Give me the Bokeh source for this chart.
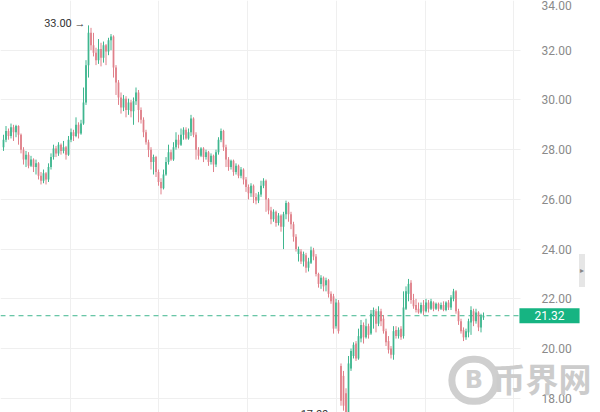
from bokeh.plotting import figure
from bokeh.models import (Range1d, FixedTicker, Span, Label, ColumnDataSource,
                          PrintfTickFormatter, LinearAxis, BoxAnnotation)
from bokeh.core.properties import value
from bokeh.embed import file_html
from bokeh.resources import INLINE

# ---- data ----
opens = [
    28.10, 28.40, 28.75, 28.55, 28.90, 28.70, 28.95, 28.60, 28.00, 27.60,
    27.80, 27.35, 27.60, 27.30, 27.45, 26.95, 26.75, 27.05, 26.80, 27.30,
    27.70, 28.05, 27.85, 28.20, 27.95, 28.10, 27.80, 28.40, 28.70, 28.55,
    29.00, 28.65, 29.05, 29.90, 31.40, 32.70, 32.20, 31.90, 31.60, 32.05,
    31.70, 32.20, 31.95, 32.40, 32.55, 31.30, 30.70, 30.10, 29.70, 30.05,
    29.60, 29.90, 29.55, 29.95, 30.30, 29.60, 29.20, 28.70, 28.30, 28.00,
    27.50, 27.70, 27.10, 26.70, 26.45, 27.00, 27.50, 27.90, 27.60, 28.10,
    28.40, 28.20, 28.60, 28.80, 28.45, 28.70, 29.25, 28.60, 28.00, 27.75,
    28.05, 27.70, 27.90, 27.50, 27.75, 27.40, 27.90, 28.40, 28.75, 28.10,
    27.60, 27.30, 27.55, 27.10, 27.35, 26.95, 27.20, 26.80, 26.50, 26.25,
    26.55, 26.10, 25.95, 26.20, 26.55, 26.75, 26.00, 25.55, 25.20, 25.50,
    25.05, 25.35, 24.90, 25.40, 25.85, 25.40, 25.00, 24.50, 23.80, 23.90,
    23.50, 23.75, 23.25, 23.45, 23.95, 23.70, 23.00, 22.60, 22.85, 22.55,
    22.75, 22.20, 22.10, 20.90, 21.85, 19.30, 18.90, 18.20, 17.40, 19.20,
    19.70, 20.20, 19.60, 20.40, 20.95, 20.45, 20.90, 20.60, 21.30, 21.50,
    21.00, 21.50, 21.20, 20.70, 20.30, 20.00, 19.75, 20.75, 20.50, 20.80,
    20.50, 21.60, 22.20, 22.65, 21.95, 21.75, 21.60, 21.45, 21.75, 21.50,
    21.85, 21.60, 21.85, 21.60, 21.80, 21.60, 21.75, 21.55, 21.85, 21.65,
    22.00, 22.30, 21.50, 21.10, 20.75, 20.45, 20.65, 21.05, 21.50, 21.10,
    21.45, 20.85, 21.25,
]
highs = [
    28.60, 28.95, 28.85, 29.05, 29.00, 29.00, 28.98, 28.65, 28.10, 27.95,
    27.90, 27.75, 27.65, 27.60, 27.50, 27.10, 27.20, 27.10, 27.45, 27.85,
    28.20, 28.15, 28.30, 28.25, 28.35, 28.15, 28.55, 28.85, 28.80, 29.30,
    29.10, 29.20, 30.50, 31.60, 33.00, 32.90, 32.70, 32.10, 32.45, 32.30,
    32.35, 32.25, 32.50, 32.65, 32.60, 31.40, 30.80, 30.30, 30.20, 30.15,
    30.05, 30.00, 30.10, 30.50, 30.40, 29.70, 29.30, 28.80, 28.40, 28.10,
    27.80, 27.75, 27.20, 26.85, 27.20, 27.70, 28.20, 28.00, 28.30, 28.70,
    28.60, 28.85, 28.90, 28.90, 28.85, 29.40, 29.30, 28.70, 28.10, 28.10,
    28.10, 28.00, 27.95, 27.85, 27.80, 28.00, 28.50, 28.85, 28.80, 28.20,
    27.70, 27.60, 27.60, 27.45, 27.40, 27.30, 27.25, 26.90, 26.60, 26.65,
    26.60, 26.25, 26.30, 26.75, 26.85, 26.80, 26.05, 25.70, 25.60, 25.55,
    25.45, 25.40, 25.50, 25.95, 25.90, 25.50, 25.10, 24.60, 24.10, 24.00,
    23.90, 23.85, 23.65, 24.10, 24.05, 23.80, 23.05, 22.95, 22.90, 22.85,
    22.80, 22.30, 22.20, 22.00, 21.95, 19.40, 19.10, 18.40, 19.70, 20.00,
    20.25, 20.30, 20.80, 21.15, 21.05, 21.20, 21.00, 21.55, 21.65, 21.60,
    21.70, 21.60, 21.35, 20.80, 20.50, 20.10, 20.90, 20.90, 20.85, 20.90,
    22.30, 22.50, 22.80, 22.75, 22.20, 22.00, 21.85, 21.85, 21.95, 22.00,
    21.95, 22.00, 21.90, 21.85, 21.85, 21.85, 21.90, 21.90, 21.95, 22.15,
    22.40, 22.35, 21.60, 21.20, 20.85, 20.80, 21.20, 21.70, 21.60, 21.60,
    21.50, 21.40, 21.45,
]
lows = [
    27.95, 28.30, 28.40, 28.45, 28.35, 28.50, 28.20, 27.85, 27.40, 27.30,
    27.25, 27.30, 27.10, 27.00, 26.80, 26.60, 26.65, 26.60, 26.70, 27.20,
    27.60, 27.70, 27.75, 27.80, 27.85, 27.60, 27.75, 28.30, 28.35, 28.50,
    28.45, 28.60, 29.00, 29.80, 30.90, 32.00, 31.75, 31.40, 31.45, 31.35,
    31.50, 31.40, 31.80, 32.00, 30.90, 30.20, 29.80, 29.45, 29.55, 29.30,
    29.40, 29.30, 29.00, 29.80, 29.10, 29.05, 28.50, 28.20, 27.70, 27.20,
    27.00, 26.90, 26.55, 26.20, 26.40, 26.95, 27.40, 27.55, 27.55, 28.00,
    28.05, 28.15, 28.40, 28.40, 28.40, 28.55, 28.50, 27.60, 27.60, 27.70,
    27.50, 27.60, 27.35, 27.40, 27.10, 27.30, 27.80, 28.30, 27.95, 27.30,
    27.15, 27.20, 26.95, 27.00, 26.85, 26.85, 26.60, 26.30, 26.00, 26.10,
    25.85, 25.80, 25.85, 26.10, 26.45, 25.50, 25.40, 25.00, 25.10, 24.90,
    24.95, 24.70, 24.00, 25.20, 25.10, 24.80, 24.30, 23.90, 23.50, 23.40,
    23.30, 23.05, 23.10, 23.40, 23.55, 22.90, 22.45, 22.40, 22.30, 22.30,
    22.05, 21.80, 20.60, 20.80, 20.60, 17.70, 17.50, 17.00, 17.30, 19.10,
    19.60, 19.50, 19.55, 20.25, 20.20, 20.40, 20.40, 20.55, 20.80, 20.65,
    20.90, 20.90, 20.60, 20.10, 19.80, 19.60, 19.55, 20.40, 20.40, 20.35,
    20.40, 21.55, 21.90, 21.80, 21.60, 21.45, 21.40, 21.40, 21.35, 21.45,
    21.45, 21.55, 21.50, 21.55, 21.50, 21.55, 21.50, 21.50, 21.55, 21.55,
    21.90, 21.40, 20.95, 20.60, 20.30, 20.35, 20.45, 20.55, 20.90, 21.00,
    20.70, 20.65, 21.15,
]
closes = [
    28.40, 28.75, 28.55, 28.90, 28.70, 28.95, 28.60, 28.00, 27.60, 27.80,
    27.35, 27.60, 27.30, 27.45, 26.95, 26.75, 27.05, 26.80, 27.30, 27.70,
    28.05, 27.85, 28.20, 27.95, 28.10, 27.80, 28.40, 28.70, 28.55, 29.00,
    28.65, 29.05, 29.90, 31.40, 32.70, 32.20, 31.90, 31.60, 32.05, 31.70,
    32.20, 31.95, 32.40, 32.55, 31.30, 30.70, 30.10, 29.70, 30.05, 29.60,
    29.90, 29.55, 29.95, 30.30, 29.60, 29.20, 28.70, 28.30, 28.00, 27.50,
    27.70, 27.10, 26.70, 26.45, 27.00, 27.50, 27.90, 27.60, 28.10, 28.40,
    28.20, 28.60, 28.80, 28.45, 28.70, 29.25, 28.60, 28.00, 27.75, 28.05,
    27.70, 27.90, 27.50, 27.75, 27.40, 27.90, 28.40, 28.75, 28.10, 27.60,
    27.30, 27.55, 27.10, 27.35, 26.95, 27.20, 26.80, 26.50, 26.25, 26.55,
    26.10, 25.95, 26.20, 26.55, 26.75, 26.00, 25.55, 25.20, 25.50, 25.05,
    25.35, 24.90, 25.40, 25.85, 25.40, 25.00, 24.50, 24.00, 24.00, 23.50,
    23.80, 23.25, 23.50, 23.95, 23.70, 23.00, 22.60, 22.85, 22.50, 22.75,
    22.20, 21.90, 20.80, 21.85, 20.70, 17.90, 17.70, 17.40, 19.40, 19.90,
    20.15, 19.60, 20.50, 20.95, 20.45, 20.90, 20.55, 21.40, 21.55, 21.00,
    21.50, 21.10, 20.70, 20.25, 19.95, 19.75, 20.70, 20.50, 20.75, 20.45,
    21.65, 22.30, 22.60, 21.95, 21.70, 21.55, 21.45, 21.75, 21.50, 21.85,
    21.60, 21.90, 21.60, 21.80, 21.60, 21.75, 21.55, 21.85, 21.65, 22.05,
    22.30, 21.50, 21.10, 20.70, 20.45, 20.70, 21.10, 21.55, 21.10, 21.45,
    20.85, 21.30, 21.32,
]
y_ticks = [18, 20, 22, 24, 26, 28, 30, 32, 34]
x_grid_ticks = [26.8, 62.0, 97.6, 133.2, 168.8, 204.0]
last_price = 21.32
max_price = 33.00
min_price = 17.00
watermark = "币界网"

# ---- colours ----
UP = "#3fb68f"
DOWN = "#e0808a"
BOX = "#16b482"
GRID = "#efefef"

# layout constants (data units of the index axis)
AXIS_AT = 206.8

idx = list(range(len(closes)))
def build(flag):
    sel = [i for i in idx if (closes[i] >= opens[i]) == flag]
    return ColumnDataSource(dict(
        x=sel,
        high=[highs[i] for i in sel],
        low=[lows[i] for i in sel],
        top=[max(opens[i], closes[i]) for i in sel],
        bottom=[min(opens[i], closes[i]) for i in sel],
    ))

src_up = build(True)
src_dn = build(False)

p = figure(width=600, height=412,
           x_range=Range1d(-1.2, 238.8), y_range=Range1d(17.427, 34.0),
           x_axis_location=None, y_axis_location=None,
           toolbar_location=None, output_backend="svg",
           min_border_left=0, min_border_right=0, min_border_top=0, min_border_bottom=0)
p.outline_line_color = None
p.background_fill_color = "white"
p.border_fill_color = "white"

# grid
p.ygrid.ticker = FixedTicker(ticks=y_ticks)
p.ygrid.grid_line_color = GRID
p.xgrid.ticker = FixedTicker(ticks=x_grid_ticks)
p.xgrid.grid_line_color = GRID

# last price line (under the axis cover)
span = Span(location=last_price, dimension="width", line_color="#3fb68f",
            line_dash="5 4", line_width=1, level="underlay")
p.add_layout(span)

# white cover over the price-axis area
p.add_layout(BoxAnnotation(left=AXIS_AT, fill_color="white", fill_alpha=1.0,
                           line_color=None, level="underlay"))

# price axis drawn at a fixed location inside the frame
ax = LinearAxis(fixed_location=AXIS_AT, ticker=FixedTicker(ticks=y_ticks),
                formatter=PrintfTickFormatter(format="%.2f"))
ax.axis_line_color = None
ax.major_tick_line_color = None
ax.minor_tick_line_color = None
ax.major_label_standoff = 15
ax.major_label_text_color = "#8a8a8a"
ax.major_label_text_font = "Roboto"
ax.major_label_text_font_size = "12px"
p.add_layout(ax, "right")

# candles
for src, col in ((src_up, UP), (src_dn, DOWN)):
    p.segment(x0="x", y0="low", x1="x", y1="high", source=src, line_color=col, line_width=1)
    p.vbar(x="x", width=0.7, top="top", bottom="bottom", source=src,
           fill_color=col, line_color=None)

# max / min annotations
imax = highs.index(max(highs))
imin = lows.index(min(lows))
p.text(x=[imax], y=[max_price], text=["%.2f →" % max_price], text_align="right",
       text_baseline="middle", x_offset=-3, y_offset=-2, text_font=value("Roboto"),
       text_font_size="11px", text_color="#333333")
p.text(x=[imin], y=[min_price], text=["%.2f →" % min_price], text_align="right",
       text_baseline="middle", x_offset=-4, y_offset=-9, text_font=value("Roboto"),
       text_font_size="11px", text_color="#333333")

# price box on the axis
p.add_layout(Label(x=218.4, y=last_price, text="%.2f" % last_price,
                   text_align="center", text_baseline="middle",
                   text_color="white", text_font="Roboto", text_font_size="12px",
                   background_fill_color=BOX, padding=(15, 3)))

# watermark
p.add_layout(Label(x=188.2, y=18.72, text="B", text_align="center", text_baseline="middle",
                   text_color="#cfcfcf", text_font="DejaVu Sans", text_font_style="bold",
                   text_font_size="24px", background_fill_color="white",
                   border_line_color="#cfcfcf", border_line_width=7,
                   border_radius=23, padding=(13, 7)))
p.add_layout(Label(x=195.6, y=18.80, text=watermark, text_align="left", text_baseline="middle",
                   text_color="#cccccc", text_font="Noto Sans CJK SC", text_font_style="bold",
                   text_font_size="33px"))

# side-panel tab
p.add_layout(Label(x=231.4, y=23.14, text="▸", text_align="center", text_baseline="middle",
                   text_color="#888888", text_font_size="8px",
                   background_fill_color="#e6e6e6", padding=(1, 12)))

open("out.html", "w").write(file_html(p, INLINE))
